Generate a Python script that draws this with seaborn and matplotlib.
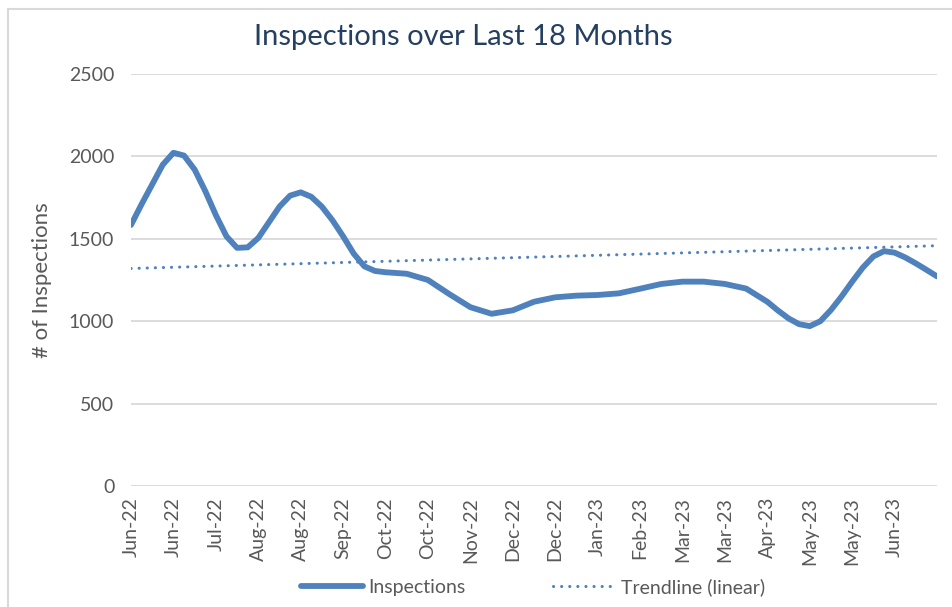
import numpy as np
import pandas as pd
import seaborn as sns
import matplotlib
matplotlib.use('Agg')
from matplotlib import pyplot as plt
from matplotlib.patches import Rectangle

# 数据 (position in tick units, denser where the curve bends)
positions = [0, 0.25, 0.5, 0.75, 1, 1.25, 1.5, 1.75, 2, 2.25, 2.5, 2.75, 3, 3.25,
             3.5, 3.75, 4, 4.25, 4.5, 4.75, 5, 5.25, 5.5, 5.75, 6, 6.5, 7, 7.5,
             8, 8.5, 9, 9.5, 10, 10.5, 11, 11.5, 12, 12.5, 13, 13.5, 14, 14.5,
             15, 15.25, 15.5, 15.75, 16, 16.25, 16.5, 16.75, 17, 17.25, 17.5,
             17.75, 18, 18.25, 18.5, 18.75, 19]
inspections = [1584, 1710, 1830, 1950, 2022, 2005, 1920, 1790, 1644, 1515, 1445,
               1448, 1505, 1600, 1695, 1762, 1782, 1755, 1695, 1612, 1515, 1410,
               1333, 1305, 1297, 1288, 1250, 1165, 1085, 1045, 1066, 1118, 1145,
               1155, 1159, 1169, 1197, 1226, 1240, 1240, 1226, 1198, 1118, 1065,
               1017, 982, 970, 1000, 1068, 1150, 1240, 1325, 1393, 1425, 1416,
               1387, 1351, 1312, 1272]
tick_labels = ['Jun-22', 'Jun-22', 'Jul-22', 'Aug-22', 'Aug-22', 'Sep-22', 'Oct-22',
               'Oct-22', 'Nov-22', 'Dec-22', 'Dec-22', 'Jan-23', 'Feb-23', 'Mar-23',
               'Mar-23', 'Apr-23', 'May-23', 'May-23', 'Jun-23']
trend_ends = [1320, 1458]

df = pd.DataFrame({'pos': positions, 'Inspections': inspections})
trend = pd.DataFrame({'pos': [positions[0], positions[-1]], 'Trendline (linear)': trend_ends})

sns.set_theme(style='white')
plt.rcParams['font.family'] = ['Lato', 'DejaVu Sans']
blue = '#4f81bd'
grey = '#595959'

fig = plt.figure(figsize=(9.52, 6.07), dpi=100)
ax = fig.add_axes([131 / 952, 1 - 486 / 607, 806 / 952, 412 / 607])

sns.lineplot(data=df, x='pos', y='Inspections', ax=ax, color=blue, linewidth=4.2,
             label='Inspections', solid_capstyle='round', solid_joinstyle='round')
sns.lineplot(data=trend, x='pos', y='Trendline (linear)', ax=ax, color=blue,
             linewidth=2.2, linestyle=(0, (0.05, 2.6)), dash_capstyle='round',
             label='Trendline (linear)')

ax.set_xlim(0, positions[-1])
ax.set_ylim(0, 2500)
ax.set_yticks(range(0, 2501, 500))
ax.set_xticks(range(len(tick_labels)))
ax.set_xticklabels(tick_labels, rotation=90, fontsize=14, color=grey)
ax.tick_params(axis='y', labelsize=14, labelcolor=grey, length=0, pad=12)
ax.tick_params(axis='x', length=0, pad=8)
ax.yaxis.grid(True, color='#d9d9d9', linewidth=1.3)
ax.set_axisbelow(True)
for s in ax.spines.values():
    s.set_visible(False)
ax.set_xlabel('')
ax.set_ylabel('# of Inspections', fontsize=16, color=grey, labelpad=12)

fig.text(463 / 952, 1 - 37 / 607, 'Inspections over Last 18 Months', ha='center',
         va='center', fontsize=21, color='#243f60')

handles, labels = ax.get_legend_handles_labels()
ax.get_legend().remove()
fig.legend(handles, labels, loc='center', bbox_to_anchor=(533 / 952, 1 - 587 / 607),
           ncol=2, frameon=False, fontsize=14, handlelength=3.2, handletextpad=0.3,
           columnspacing=4.5, labelcolor=grey)

fig.patches.append(Rectangle((8 / 952, -0.05), 1.2, 1 - 9 / 607 + 0.05,
                             transform=fig.transFigure, fill=False,
                             edgecolor='#d9d9d9', linewidth=1.5))

fig.savefig('out.png', dpi=100)
